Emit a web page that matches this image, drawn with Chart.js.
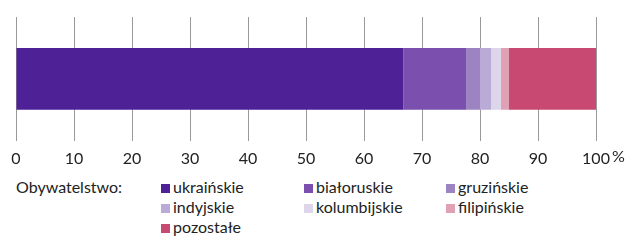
<!DOCTYPE html>
<html>
<head>
<meta charset="utf-8">
<script src="https://cdn.jsdelivr.net/npm/chart.js@4"></script>
<style>
  body { margin: 0; background: #fff; font-family: Lato, "Noto Sans", sans-serif; color: #222; }
  #wrap { position: relative; width: 643px; height: 247px; }
  #legend { position: absolute; left: 0; top: 177px; width: 643px; font-size: 16px; }
  .ttl { position: absolute; left: 16px; top: 0; line-height: 20px; }
  .item { position: absolute; line-height: 20px; white-space: nowrap; }
  .sw { display: inline-block; width: 9px; height: 9px; margin-right: 3px; vertical-align: 0px; }
</style>
</head>
<body>
<div id="wrap">
  <canvas id="chart" width="643" height="176"></canvas>
  <div id="legend"><span class="ttl">Obywatelstwo:</span></div>
</div>
<script>
// udział cudzoziemców wg obywatelstwa (%)
var groups = ['ukraińskie', 'białoruskie', 'gruzińskie', 'indyjskie', 'kolumbijskie', 'filipińskie', 'pozostałe'];
var shares = [66.8, 10.8, 2.4, 1.9, 1.7, 1.4, 15.0];
var colours = ['#4e2296', '#7a4fad', '#9b84c1', '#baabd6', '#ddd5ea', '#e0a1b5', '#c84a72'];
var ticks = [0, 10, 20, 30, 40, 50, 60, 70, 80, 90, 100];

var datasets = groups.map(function (g, i) {
  return {
    label: g,
    data: [shares[i]],
    backgroundColor: colours[i],
    borderWidth: 0,
    barPercentage: 0.5,
    categoryPercentage: 1
  };
});

// znak % za ostatnią etykietą osi
var percentSign = {
  id: 'percentSign',
  afterDraw: function (chart) {
    var sc = chart.scales.x;
    var ctx = chart.ctx;
    ctx.save();
    ctx.font = '16px Lato, "Noto Sans", sans-serif';
    ctx.fillStyle = '#222';
    ctx.textBaseline = 'middle';
    var w = ctx.measureText('100').width;
    ctx.fillText('%', sc.getPixelForValue(100) + w / 2 + 2, 157);
    ctx.restore();
  }
};

var ctx = document.getElementById('chart');
new Chart(ctx, {
  type: 'bar',
  data: { labels: [''], datasets: datasets },
  plugins: [percentSign],
  options: {
    indexAxis: 'y',
    responsive: false,
    animation: false,
    layout: { padding: { left: 16, right: 47, top: 17, bottom: 0 } },
    plugins: { legend: { display: false }, tooltip: { enabled: false } },
    scales: {
      x: {
        stacked: true,
        min: 0,
        max: 100,
        afterBuildTicks: function (axis) {
          axis.ticks = ticks.map(function (v) { return { value: v }; });
        },
        grid: { color: '#999', lineWidth: 1, drawTicks: false },
        border: { display: false },
        ticks: {
          padding: 8,
          color: '#222',
          font: { family: 'Lato, "Noto Sans", sans-serif', size: 16 }
        }
      },
      y: { stacked: true, display: false }
    }
  }
});

// legenda w trzech kolumnach
var legend = document.getElementById('legend');
var colX = [161, 304, 446];
groups.forEach(function (g, i) {
  var el = document.createElement('span');
  el.className = 'item';
  el.style.left = colX[i % 3] + 'px';
  el.style.top = (Math.floor(i / 3) * 20) + 'px';
  el.innerHTML = '<span class="sw" style="background:' + colours[i] + '"></span>' + g;
  legend.appendChild(el);
});
</script>
</body>
</html>
